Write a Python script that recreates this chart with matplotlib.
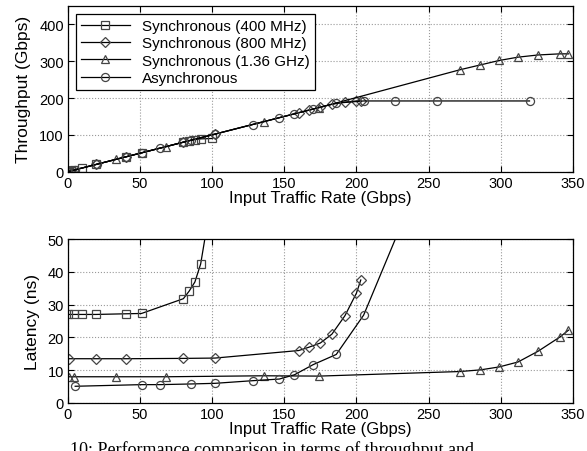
import matplotlib
matplotlib.use('Agg')
import matplotlib.pyplot as plt

plt.rcParams['font.family'] = ['Liberation Sans', 'DejaVu Sans']

labels = ['Synchronous (400 MHz)', 'Synchronous (800 MHz)',
          'Synchronous (1.36 GHz)', 'Asynchronous']
markers = ['s', 'D', '^', 'o']

# throughput panel
sq_x_tp = [0, 2, 4, 9.5, 19.5, 40, 51, 80, 84, 88, 92, 100]
sq_tp = [0, 2, 4, 9.5, 19.5, 40, 51, 80, 84, 87, 89, 90]
di_x_tp = [0, 1, 19.5, 40, 80, 102, 160, 167, 175, 183, 192, 200, 203]
di_tp = [0, 1, 19.5, 40, 80, 102, 160, 167, 175, 183, 189, 192, 193]
tr_x_tp = [1, 4, 33, 68, 136, 174, 272, 286, 299, 312, 326, 341, 347]
tr_tp = [1, 4, 33, 68, 136, 174, 277, 290, 302, 311, 317, 320, 320]
ci_x_tp = [0, 5, 20, 40, 51, 64, 80, 85, 102, 128, 146.5, 157, 170, 186,
           205, 227, 256, 320]
ci_tp = [0, 5, 20, 40, 51, 64, 80, 85, 102, 128, 146.5, 157, 170, 186,
         192, 192, 192, 192]

# latency panel
sq_x_lat = [0, 4, 9.5, 19.5, 40, 51, 80, 84, 88, 92, 100]
sq_lat = [27, 27, 27, 27, 27.2, 27.3, 31.8, 34.1, 36.9, 42.4, 63.5]
di_x_lat = [0.5, 19.5, 40, 80, 102, 160, 167, 175, 183, 192, 200, 203]
di_lat = [13.5, 13.5, 13.5, 13.6, 13.7, 16.0, 17.0, 18.3, 21.0, 26.6, 33.5, 37.5]
tr_x_lat = [1, 4, 33, 68, 136, 174, 272, 286, 299, 312, 326, 341, 347]
tr_lat = [8.0, 8.0, 8.0, 8.0, 8.3, 8.2, 9.6, 10.1, 11.0, 12.5, 15.8, 20.1, 22.2]
ci_x_lat = [5, 51, 64, 85, 102, 128, 146.5, 157, 170, 186, 205, 256]
ci_lat = [5.1, 5.6, 5.6, 5.8, 6.0, 6.8, 7.3, 8.6, 11.7, 14.8, 26.8, 80.6]

xticks = [0, 50, 100, 150, 200, 250, 300, 350]

fig = plt.figure(figsize=(5.87, 4.52), dpi=100)
ax1 = fig.add_axes([0.1158, 0.6181, 0.860, 0.3664])
ax2 = fig.add_axes([0.1158, 0.1062, 0.860, 0.3628])

tp_data = [(sq_x_tp, sq_tp), (di_x_tp, di_tp), (tr_x_tp, tr_tp), (ci_x_tp, ci_tp)]
lat_data = [(sq_x_lat, sq_lat), (di_x_lat, di_lat), (tr_x_lat, tr_lat), (ci_x_lat, ci_lat)]

def draw(ax, data):
    for (x, y), m, lab in zip(data, markers, labels):
        ms = 5.8 if m != 'D' else 5.3
        ax.plot(x, y, color='black', lw=0.9, marker=m, ms=ms,
                mfc='none', mec='#444444', mew=0.9, label=lab)

draw(ax1, tp_data)
draw(ax2, lat_data)

for ax in (ax1, ax2):
    ax.set_xlim(0, 350)
    ax.set_xticks(xticks)
    ax.grid(True, ls=':', color='#999999', lw=0.8)
    ax.tick_params(direction='in', top=True, right=True, length=4,
                   labelsize=10.5, pad=3)
    ax.set_xlabel('Input Traffic Rate (Gbps)', fontsize=12, labelpad=0)
    for s in ax.spines.values():
        s.set_linewidth(0.9)

ax1.set_ylim(0, 450)
ax1.set_yticks([0, 100, 200, 300, 400])
ax1.set_ylabel('Throughput (Gbps)', fontsize=12.5, labelpad=6)
ax2.set_ylim(0, 50)
ax2.set_yticks([0, 10, 20, 30, 40, 50])
ax2.set_ylabel('Latency (ns)', fontsize=12.5, labelpad=5)

leg = ax1.legend(loc='upper left', fontsize=11, handlelength=3.2,
                 fancybox=False, framealpha=1, edgecolor='black',
                 borderaxespad=0.5, labelspacing=0.22, borderpad=0.35)
leg.get_frame().set_linewidth(0.9)

fig.text(0.119, 11 / 452, '10: Performance comparison in terms of throughput and',
         family='Liberation Serif', fontsize=13, va='top', ha='left')

plt.savefig('out.png', dpi=100)
